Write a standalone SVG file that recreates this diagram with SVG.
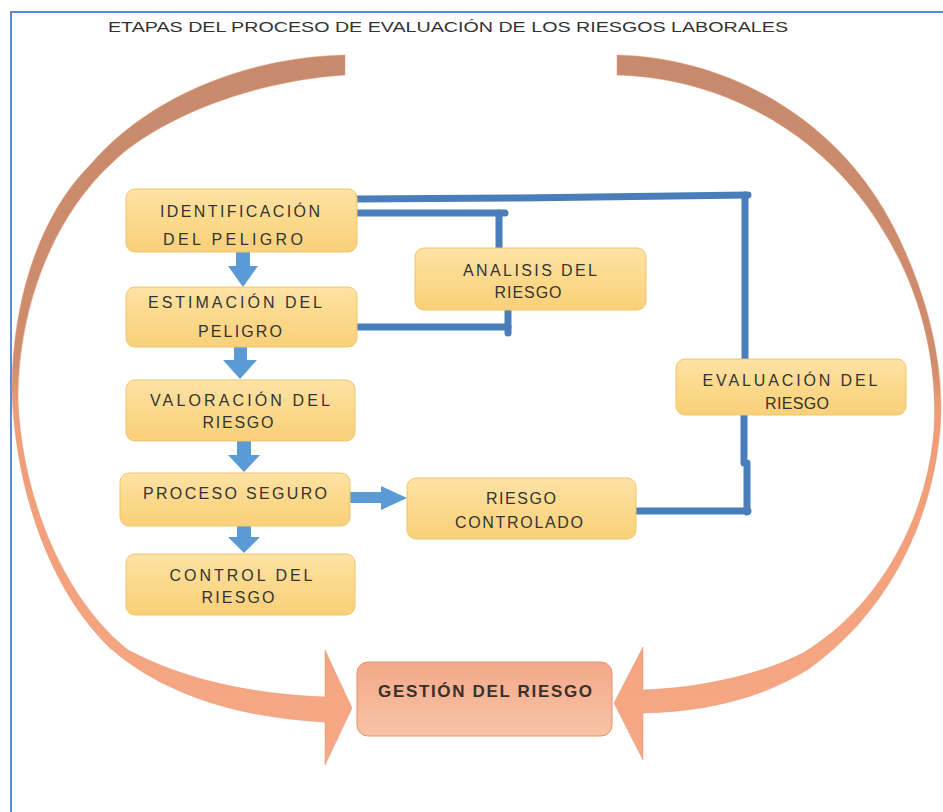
<svg xmlns="http://www.w3.org/2000/svg" width="943" height="812" viewBox="0 0 943 812">
<defs>
<linearGradient id="boxg" x1="0" y1="0" x2="0" y2="1">
<stop offset="0" stop-color="#fde3a6"/>
<stop offset="0.5" stop-color="#fcd98b"/>
<stop offset="1" stop-color="#f9d07a"/>
</linearGradient>
<linearGradient id="gestg" x1="0" y1="0" x2="0" y2="1">
<stop offset="0" stop-color="#f3a98a"/>
<stop offset="1" stop-color="#f8c4a6"/>
</linearGradient>
<linearGradient id="arcg" gradientUnits="userSpaceOnUse" x1="0" y1="50" x2="0" y2="770">
<stop offset="0" stop-color="#c78a6d"/>
<stop offset="0.44" stop-color="#cf8d6d"/>
<stop offset="0.5" stop-color="#f09d76"/>
<stop offset="1" stop-color="#f7a886"/>
</linearGradient>
<style>
.box{fill:url(#boxg);stroke:#efc46a;stroke-width:1}
.t{font-family:"Liberation Sans",Arial,sans-serif;font-size:16px;fill:#333333;text-anchor:middle}
.conn{fill:none;stroke:#4a7ebb;stroke-width:7;stroke-linecap:round;stroke-linejoin:round}
.arr{fill:#5b9bd5}
.arc{fill:url(#arcg);stroke:#e59470;stroke-width:0.8;stroke-opacity:0.6}
</style>
</defs>
<rect width="943" height="812" fill="#ffffff"/>
<g id="frame" fill="none" stroke="#5b8bd0" stroke-width="2">
<path d="M11,812 V12 H943"/>
</g>
<text x="448" y="32" font-family="Liberation Sans, Arial, sans-serif" font-size="14" fill="#333" text-anchor="middle" textLength="680" lengthAdjust="spacingAndGlyphs">ETAPAS DEL PROCESO DE EVALUACIÓN DE LOS RIESGOS LABORALES</text>

<g id="arc-left">
<path class="arc" d="M345,55 C250,57 150,95 90,165 C40,215 12,300 12,390 C15,490 50,590 110,648 C170,700 250,718 325,722 L325,765 L352,708 L325,650 L325,697 C250,694 185,680 128,650 C65,600 22,500 18,400 C18,300 58,212 112,163 C150,125 240,82 345,75 Z"/>
</g>
<g id="arc-right">
<path class="arc" d="M617,55 C730,58 840,120 895,230 C930,300 945,370 940,430 C932,520 890,610 810,668 C760,700 700,712 643,713 L643,760 L614,703 L643,647 L643,690 C700,688 760,675 803,653 C878,608 927,520 934,430 C938,360 920,290 884,232 C830,140 730,78 617,75 Z"/>
</g>

<g id="connectors">
<path class="conn" d="M357,199 L520,198 L748,195"/>
<path class="conn" d="M745,195 V360"/>
<path class="conn" d="M357,213 H505"/>
<path class="conn" d="M499,213 V248"/>
<path class="conn" d="M508,310 V333"/>
<path class="conn" d="M357,327 H508"/>
<path class="conn" d="M744,415 V463 M747,463 V512"/>
<path class="conn" d="M633,511 H748"/>
<path class="arr" d="M236,252 H250 V266 H258 L243,287 L228,266 H236 Z"/>
<path class="arr" d="M234,347 H247 V360 H257 L240,379 L223,360 H234 Z"/>
<path class="arr" d="M237,441 H251 V455 H260 L244,472 L228,455 H237 Z"/>
<path class="arr" d="M237,526 H251 V537 H260 L244,553 L228,537 H237 Z"/>
<path class="arr" d="M350,492 H381 V486 L407,498 L381,510 V503 H350 Z"/>
</g>

<g id="identificacion">
<rect class="box" x="126" y="189" width="231" height="63" rx="9"/>
<text class="t" x="240" y="217" textLength="160">IDENTIFICACIÓN</text>
<text class="t" x="233" y="245" textLength="140">DEL PELIGRO</text>
</g>
<g id="estimacion">
<rect class="box" x="126" y="287" width="231" height="60" rx="9"/>
<text class="t" x="235" y="308" textLength="174">ESTIMACIÓN DEL</text>
<text class="t" x="240" y="337" textLength="84">PELIGRO</text>
</g>
<g id="valoracion">
<rect class="box" x="126" y="380" width="229" height="61" rx="9"/>
<text class="t" x="240" y="406" textLength="180">VALORACIÓN DEL</text>
<text class="t" x="238" y="428" textLength="71">RIESGO</text>
</g>
<g id="proceso">
<rect class="box" x="120" y="473" width="230" height="53" rx="9"/>
<text class="t" x="235" y="499" textLength="184">PROCESO SEGURO</text>
</g>
<g id="control">
<rect class="box" x="126" y="554" width="229" height="61" rx="9"/>
<text class="t" x="241" y="581" textLength="143">CONTROL DEL</text>
<text class="t" x="238" y="603" textLength="73">RIESGO</text>
</g>
<g id="analisis">
<rect class="box" x="415" y="248" width="231" height="62" rx="9"/>
<text class="t" x="530" y="276" textLength="134">ANALISIS DEL</text>
<text class="t" x="528" y="298" textLength="67">RIESGO</text>
</g>
<g id="riesgo-controlado">
<rect class="box" x="407" y="478" width="229" height="61" rx="9"/>
<text class="t" x="521" y="504" textLength="70">RIESGO</text>
<text class="t" x="519" y="528" textLength="128">CONTROLADO</text>
</g>
<g id="evaluacion">
<rect class="box" x="676" y="359" width="230" height="56" rx="9"/>
<text class="t" x="790" y="386" textLength="175">EVALUACIÓN DEL</text>
<text class="t" x="797" y="409" textLength="64">RIESGO</text>
</g>
<g id="gestion">
<rect x="357" y="662" width="255" height="74" rx="11" fill="url(#gestg)" stroke="#e8906c" stroke-width="1"/>
<text x="485" y="697" font-family="Liberation Sans, Arial, sans-serif" font-size="17" font-weight="bold" fill="#3a2f2a" text-anchor="middle" textLength="214">GESTIÓN DEL RIESGO</text>
</g>
</svg>
